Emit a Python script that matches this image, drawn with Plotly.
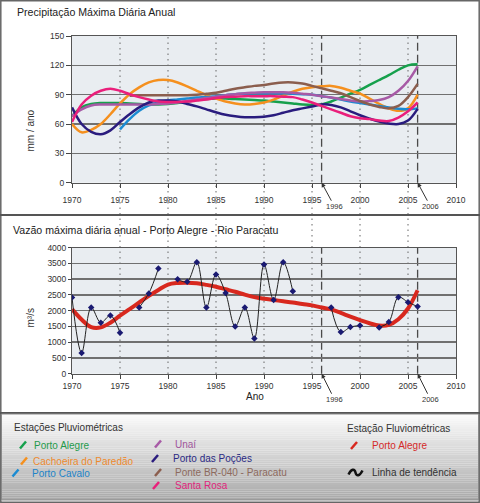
import plotly.graph_objects as go

# ---------------- DATA ----------------
years = list(range(1970, 2007))

# Precipitação máxima diária anual (mm/ano) - smoothed curves per station
porto_alegre = [68, 77, 80.5, 81.5, 81.5, 81.5, 81, 80.5, 80, 80,
                80.5, 81.5, 83, 84.5, 85.5, 86, 86, 85.5, 85, 84.5,
                84, 83, 82, 81, 80, 79.5, 80, 83, 87, 91,
                95, 100, 105, 110, 115.5, 120, 121]
cachoeira = [60, 51.5, 54, 60, 70, 81, 90.5, 97.5, 102.5, 105,
             105, 102.5, 98.5, 94, 89.5, 86, 83, 81, 80, 80.5,
             82, 85, 89, 93, 96, 97.5, 98.5, 99, 97, 94,
             91, 86, 80.5, 76, 73.5, 76, 90]
porto_cavalo = [None, None, None, None, None, 54.5, 65, 73.5, 79, 82,
                84, 85, 86, 87, 87.5, 88.5, 89.5, 90.5, 91, 91.5,
                91.5, 91.5, 91.5, 91, 90.5, 90, 88.5, 87, 85, 83,
                81.5, 80, 78.5, 77, 75.5, 75, 76]
unai = [68, 75, 79, 80, 80, 80, 80, 80, 80, 80.5,
        81, 82, 83.5, 85, 86.5, 88, 89.5, 90.5, 91.5, 92,
        92.5, 92.5, 92.5, 92, 91, 90, 88.5, 87, 85.5, 84,
        83, 83.5, 84.5, 87.5, 94, 104, 119]
pocoes = [77, 60, 52, 49.5, 53.5, 62, 70, 77, 82, 84,
          84, 83, 80.5, 78, 75, 72, 69.5, 68, 67, 67,
          67.5, 69, 71.5, 74, 76, 78, 80, 79.5, 77, 73,
          69, 65.5, 62.5, 60.5, 60, 63.5, 75.5]
ponte = [None, None, None, None, None, None, 89, 89.5, 89.5, 89.5,
         89.5, 89.5, 89.5, 90, 91, 92, 94, 96, 97.5, 99,
         100, 101.5, 102.5, 102.5, 101.5, 99, 96.5, 94, 91.5, 87.5,
         83.5, 80, 77.5, 76, 78.5, 87.5, 101]
santa_rosa = [62, 80, 89, 94, 96, 94, 90.5, 87.5, 85, 83,
              82.5, 82.5, 83, 84, 85, 86.5, 87.5, 88, 88.5, 88.5,
              88.5, 88.5, 88, 87.5, 85, 82, 78.5, 75, 71.5, 68,
              66, 65, 63.5, 63, 66.5, 73, 82]

# Vazão máxima diária anual - Porto Alegre (m3/s)
vazao = [2420, 660, 2100, 1620, 1850, 1300, None, 2100, 2550, 3340,
         None, 3000, 2920, 3540, 2100, 3150, 2560, 1500, 2100, 1120,
         3470, 2340, 3540, 2620, None, None, None, 2100, 1320, 1480,
         1530, None, 1470, 1640, 2430, 2270, 2130]
tendencia = [2050, 1720, 1480, 1470, 1620, 1840, 2050, 2260, 2470, 2660,
             2830, 2880, 2890, 2870, 2820, 2760, 2680, 2600, 2510, 2430,
             2380, 2340, 2300, 2260, 2210, 2170, 2100, 2040, 1930, 1810,
             1700, 1600, 1530, 1550, 1730, 2070, 2650]

x_ticks = [1970, 1975, 1980, 1985, 1990, 1995, 2000, 2005, 2010]
marked_years = [1996, 2006]

stations = ["Porto Alegre", "Cachoeira do Paredão", "Porto Cavalo", "Unaí",
            "Porto das Poções", "Ponte BR-040 - Paracatu", "Santa Rosa"]
series = [porto_alegre, cachoeira, porto_cavalo, unai, pocoes, ponte, santa_rosa]
colors = ["#16a04c", "#f5901e", "#1b8bd2", "#a75aa6", "#2a1c7e", "#8b5e4e", "#ea1f7b"]
text_colors = ["#1f9a4c", "#ee8a2e", "#1d83c8", "#a0559c", "#2b2a84", "#8d6a5e", "#e0247c"]

# ---------------- FIGURE ----------------
W, H = 480, 503
def px(x): return x / W
def py(y): return 1 - y / H

FONT = "Liberation Sans, Arial, sans-serif"
fig = go.Figure()

for name, vals, col in zip(stations, series, colors):
    fig.add_trace(go.Scatter(x=years, y=vals, mode="lines", name=name,
                             line=dict(color=col, width=2.5, shape="spline", smoothing=1),
                             xaxis="x", yaxis="y", hoverinfo="skip", connectgaps=False))

fig.add_trace(go.Scatter(x=years, y=tendencia, mode="lines", name="Linha de tendência",
                         line=dict(color="#d8281e", width=4, shape="spline", smoothing=1),
                         xaxis="x2", yaxis="y2", hoverinfo="skip"))
fig.add_trace(go.Scatter(x=years, y=vazao, mode="lines+markers", name="Porto Alegre",
                         line=dict(color="#222222", width=1, shape="spline", smoothing=1),
                         marker=dict(symbol="diamond", size=5, color="#1a1a72"),
                         connectgaps=False, xaxis="x2", yaxis="y2", hoverinfo="skip"))

axis_common = dict(showline=True, linecolor="#555555", linewidth=1, mirror=True,
                   ticks="outside", tickcolor="#444444", zeroline=False, automargin=False,
                   tickfont=dict(family=FONT, size=8.5, color="#333333"))

fig.update_layout(
    width=W, height=H, autosize=False,
    margin=dict(l=0, r=0, t=0, b=0, pad=0, autoexpand=False),
    paper_bgcolor="white", plot_bgcolor="rgba(0,0,0,0)",
    showlegend=False, hovermode=False,
    font=dict(family=FONT),
    xaxis=dict(domain=[px(72), px(456)], anchor="y", range=[1970, 2010],
               tickmode="array", tickvals=x_ticks, ticktext=[str(t) for t in x_ticks],
               ticklen=4, showgrid=False, ticklabelstandoff=5, **axis_common),
    yaxis=dict(domain=[py(182.7), py(36)], anchor="x", range=[0, 150], dtick=30,
               ticklen=5, showgrid=True, gridcolor="#707070", gridwidth=1.5, **axis_common),
    xaxis2=dict(domain=[px(72), px(456)], anchor="y2", range=[1970, 2010],
                tickmode="array", tickvals=x_ticks, ticktext=[str(t) for t in x_ticks],
                ticklen=4, showgrid=False, **axis_common),
    yaxis2=dict(domain=[py(373.7), py(247.7)], anchor="x2", range=[0, 4000], dtick=500,
                ticklen=3, showgrid=True, gridcolor="#707070", gridwidth=1.5, **axis_common),
)

shapes = []
# plot backgrounds
for (y0, y1) in [(182.7, 36), (373.7, 247.7)]:
    shapes.append(dict(type="rect", xref="paper", yref="paper", x0=px(72), x1=px(456),
                       y0=py(y0), y1=py(y1), fillcolor="#e9edf1", line=dict(width=0), layer="below"))
# legend gradient
top, bot = 414, 500
n = 40
c0, c1 = 250, 170
for i in range(n):
    ya = top + (bot - top) * i / n
    yb = top + (bot - top) * (i + 1) / n
    g = int(round(c0 + (c1 - c0) * i / (n - 1)))
    shapes.append(dict(type="rect", xref="paper", yref="paper", x0=px(1.5), x1=px(478.5),
                       y0=py(yb), y1=py(ya), fillcolor=f"rgb({g},{g},{g})",
                       line=dict(width=0), layer="below"))
# dotted vertical year lines
for yr in range(1975, 2010, 5):
    shapes.append(dict(type="line", xref="x", yref="paper", x0=yr, x1=yr, y0=py(374), y1=py(36),
                       line=dict(color="#666666", width=1, dash="1.5px,4px"), layer="below"))
# dashed marker lines
for yr in marked_years:
    for (y0, y1) in [(182.7, 36), (373.7, 247.7)]:
        shapes.append(dict(type="line", xref="x", yref="paper", x0=yr, x1=yr, y0=py(y0), y1=py(y1),
                           line=dict(color="#4a4a4a", width=1.3, dash="8px,4px"), layer="below"))
# frames
shapes.append(dict(type="rect", xref="paper", yref="paper", x0=px(0.8), x1=px(479.2),
                   y0=py(502.2), y1=py(0.8), line=dict(color="#666666", width=1.5)))
shapes.append(dict(type="line", xref="paper", yref="paper", x0=0, x1=1, y0=py(215), y1=py(215),
                   line=dict(color="#555555", width=2)))
shapes.append(dict(type="line", xref="paper", yref="paper", x0=0, x1=1, y0=py(413), y1=py(413),
                   line=dict(color="#555555", width=2)))
shapes.append(dict(type="rect", xref="paper", yref="paper", x0=px(1.5), x1=px(478.5),
                   y0=py(500), y1=py(414), line=dict(color="#8a8a8a", width=1)))

# legend slash icons: (x_left, y_center, color)
def slash(xl, yc, col, w=6, h=7):
    return dict(type="line", xref="paper", yref="paper",
                x0=px(xl), y0=py(yc + h / 2), x1=px(xl + w), y1=py(yc - h / 2),
                line=dict(color=col, width=2.5))

legend_rows = [
    (20, 445, 32, 0), (21, 461, 31, 1), (12.5, 473, 30, 2),
    (155, 444, 173, 3), (152, 458.5, 171, 4), (155, 472.5, 173, 5), (153, 485.5, 173, 6),
]
annotations = []
for (sx, yc, tx, k) in legend_rows:
    shapes.append(slash(sx, yc, colors[k]))
    annotations.append(dict(x=px(tx), y=py(yc), xref="paper", yref="paper", text=stations[k],
                            showarrow=False, xanchor="left", yanchor="middle",
                            font=dict(family=FONT, size=10, color=text_colors[k])))
shapes.append(slash(351, 445.5, "#d8281e"))
annotations.append(dict(x=px(370), y=py(445), xref="paper", yref="paper", text="Porto Alegre",
                        showarrow=False, xanchor="left", yanchor="middle",
                        font=dict(family=FONT, size=10, color="#d42a2a")))
# tilde icon
pts = [(348.5, 474.5), (351.5, 468.5), (354.5, 468.5), (355.5, 472.5),
       (356.5, 476.5), (359.5, 476.5), (362.5, 470.5)]
path = "M {},{} C {},{} {},{} {},{} C {},{} {},{} {},{}".format(
    *[v for (a, b) in pts for v in (px(a), py(b))])
shapes.append(dict(type="path", xref="paper", yref="paper", path=path,
                   line=dict(color="#111111", width=2.5)))
annotations.append(dict(x=px(370), y=py(472.5), xref="paper", yref="paper", text="Linha de tendência",
                        showarrow=False, xanchor="left", yanchor="middle",
                        font=dict(family=FONT, size=10, color="#333333")))
annotations.append(dict(x=px(12), y=py(427), xref="paper", yref="paper", text="Estações Pluviométricas",
                        showarrow=False, xanchor="left", yanchor="middle",
                        font=dict(family=FONT, size=10, color="#333333")))
annotations.append(dict(x=px(345), y=py(428), xref="paper", yref="paper", text="Estação Fluviométricas",
                        showarrow=False, xanchor="left", yanchor="middle",
                        font=dict(family=FONT, size=10, color="#333333")))

# titles
annotations.append(dict(x=px(15), y=py(12), xref="paper", yref="paper",
                        text="Precipitação Máxima Diária Anual", showarrow=False,
                        xanchor="left", yanchor="middle", font=dict(family=FONT, size=10.6, color="#222222")))
annotations.append(dict(x=px(11), y=py(230), xref="paper", yref="paper",
                        text="Vazão máxima diária anual - Porto Alegre - Rio Paracatu", showarrow=False,
                        xanchor="left", yanchor="middle", font=dict(family=FONT, size=10.6, color="#222222")))
# axis titles
annotations.append(dict(x=px(22), y=py(108), xref="paper", yref="paper", text="mm / ano",
                        showarrow=False, textangle=-90, font=dict(family=FONT, size=10, color="#333333")))
annotations.append(dict(x=px(22), y=py(318), xref="paper", yref="paper", text="m³/s",
                        showarrow=False, textangle=-90, font=dict(family=FONT, size=10, color="#333333")))
annotations.append(dict(x=px(255), y=py(403.5), xref="paper", yref="paper", text="Ano",
                        showarrow=False, font=dict(family=FONT, size=10, color="#222222")))
# year arrows
for yr in marked_years:
    for (xr, yr_ref, ay) in [("x", "y", 24), ("x2", "y2", 26)]:
        annotations.append(dict(x=yr, y=0, xref=xr, yref=yr_ref, text=str(yr), showarrow=True,
                                ax=13, ay=ay, arrowhead=2, arrowsize=0.9, arrowwidth=1,
                                arrowcolor="#333333", standoff=0,
                                font=dict(family=FONT, size=7.5, color="#333333")))

fig.update_layout(shapes=shapes, annotations=annotations)
fig.write_html("out.html",
               config={"displayModeBar": False, "staticPlot": True},
               post_script="document.body.style.margin='0';document.body.style.padding='0';"
                           "document.body.style.overflow='hidden';")
